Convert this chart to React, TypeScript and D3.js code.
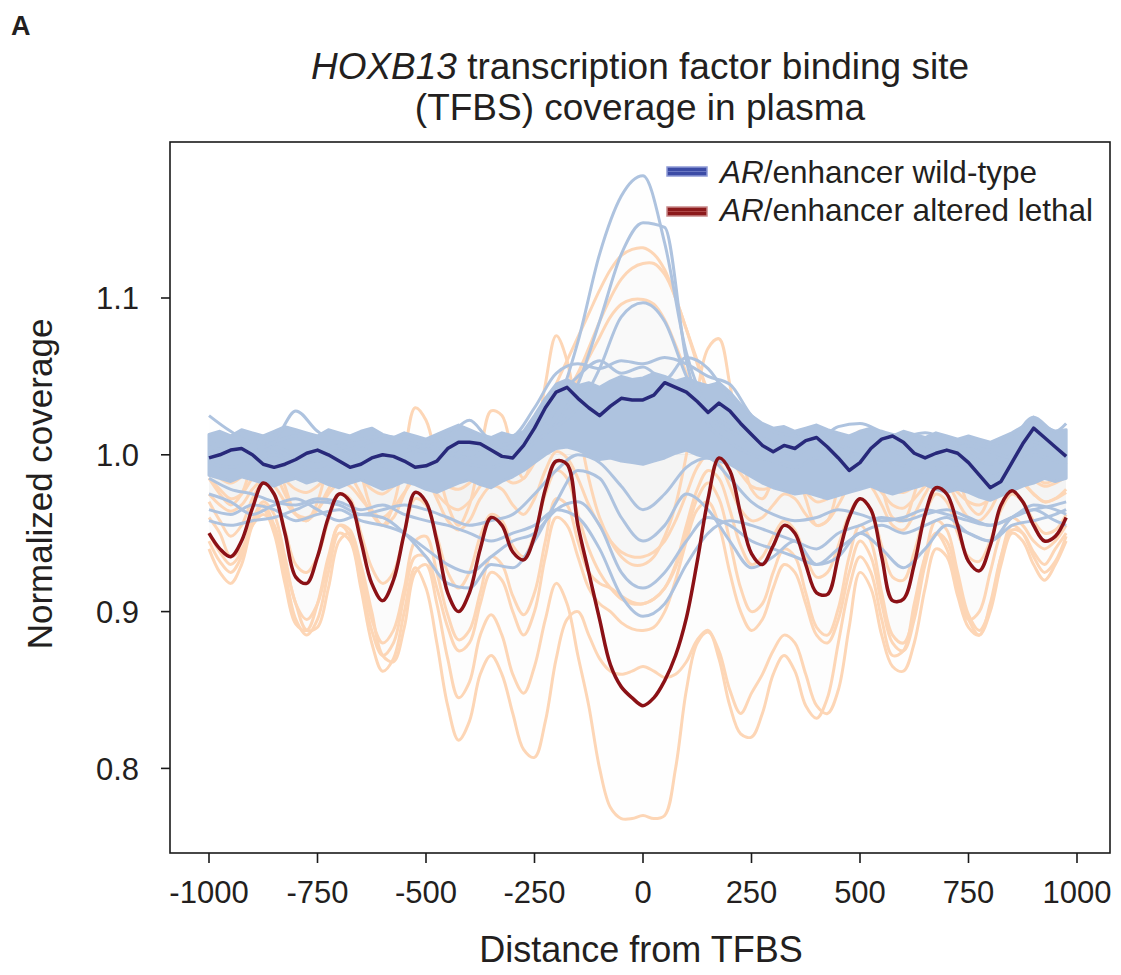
import React from 'react';
import * as d3 from 'd3';

// x positions (bp from TFBS)
const xFine = [
  -1000, -975, -950, -925, -900, -875, -850, -825, -800, -775,
  -750, -725, -700, -675, -650, -625, -600, -575, -550, -525,
  -500, -475, -450, -425, -400, -375, -350, -325, -300, -275,
  -250, -225, -200, -175, -150, -125, -100, -75, -50, -25,
  0, 25, 50, 75, 100, 125, 150, 175, 200, 225,
  250, 275, 300, 325, 350, 375, 400, 425, 450, 475,
  500, 525, 550, 575, 600, 625, 650, 675, 700, 725,
  750, 775, 800, 825, 850, 875, 900, 925, 950, 975,
];
const xCoarse = [
  -1000, -950, -900, -850, -800, -750, -700, -650, -600, -550,
  -500, -450, -400, -350, -300, -250, -200, -150, -100, -50,
  0, 50, 100, 150, 200, 250, 300, 350, 400, 450,
  500, 550, 600, 650, 700, 750, 800, 850, 900, 950, 975,
];

const xTicks = [-1000, -750, -500, -250, 0, 250, 500, 750, 1000];
const yTicks = [0.8, 0.9, 1.0, 1.1];
const yTickLabels = ['0.8', '0.9', '1.0', '1.1'];

// highlighted mean profiles (xFine)
const lethalMean = [
  0.950, 0.940, 0.935, 0.945, 0.966, 0.982, 0.975, 0.950, 0.922, 0.918,
  0.935, 0.960, 0.975, 0.970, 0.945, 0.918, 0.907, 0.920, 0.950, 0.976,
  0.970, 0.945, 0.912, 0.900, 0.912, 0.940, 0.960, 0.955, 0.938, 0.933,
  0.948, 0.978, 0.996, 0.994, 0.955, 0.925, 0.895, 0.866, 0.852, 0.845,
  0.840, 0.845, 0.856, 0.872, 0.896, 0.932, 0.972, 0.998, 0.990, 0.962,
  0.937, 0.930, 0.942, 0.955, 0.950, 0.930, 0.912, 0.911, 0.935, 0.960,
  0.972, 0.965, 0.935, 0.907, 0.908, 0.930, 0.962, 0.979, 0.975, 0.955,
  0.932, 0.926, 0.942, 0.968, 0.977, 0.970, 0.955, 0.945, 0.948, 0.960,
];
const wildTypeMean = [
  0.998, 1.000, 1.003, 1.004, 1.000, 0.994, 0.992, 0.994, 0.997, 1.001,
  1.003, 1.000, 0.996, 0.992, 0.994, 0.998, 1.000, 0.999, 0.996, 0.992,
  0.993, 0.996, 1.004, 1.008, 1.008, 1.007, 1.003, 0.999, 0.998, 1.006,
  1.017, 1.030, 1.040, 1.043, 1.036, 1.030, 1.025, 1.031, 1.036, 1.035,
  1.035, 1.038, 1.046, 1.043, 1.040, 1.034, 1.027, 1.033, 1.028, 1.020,
  1.013, 1.006, 1.002, 1.006, 1.004, 1.009, 1.011, 1.005, 0.998, 0.990,
  0.995, 1.004, 1.010, 1.012, 1.008, 1.001, 0.998, 1.001, 1.003, 1.001,
  0.995, 0.987, 0.979, 0.983, 0.995, 1.007, 1.017, 1.011, 1.005, 0.999,
];

// dense wild-type sample envelope (xFine)
const wildTypeBandUpper = [
  1.013, 1.015, 1.012, 1.016, 1.014, 1.012, 1.015, 1.018, 1.016, 1.014,
  1.012, 1.016, 1.014, 1.012, 1.015, 1.017, 1.013, 1.011, 1.014, 1.012,
  1.010, 1.013, 1.016, 1.019, 1.016, 1.013, 1.011, 1.014, 1.012, 1.015,
  1.025, 1.036, 1.045, 1.048, 1.044, 1.046, 1.043, 1.047, 1.050, 1.048,
  1.049, 1.052, 1.050, 1.047, 1.049, 1.046, 1.044, 1.046, 1.040, 1.032,
  1.025, 1.020, 1.017, 1.018, 1.015, 1.017, 1.019, 1.016, 1.014, 1.012,
  1.015, 1.017, 1.014, 1.012, 1.015, 1.013, 1.011, 1.014, 1.012, 1.010,
  1.012, 1.010, 1.008, 1.011, 1.014, 1.018, 1.024, 1.018, 1.015, 1.016,
];
const wildTypeBandLower = [
  0.987, 0.985, 0.983, 0.986, 0.984, 0.982, 0.980, 0.983, 0.985, 0.982,
  0.984, 0.981, 0.979, 0.982, 0.984, 0.981, 0.978, 0.980, 0.983, 0.981,
  0.978, 0.976, 0.979, 0.982, 0.984, 0.981, 0.979, 0.983, 0.986, 0.990,
  0.995, 1.000, 1.004, 1.005, 1.003, 1.000, 0.997, 0.998, 0.996, 0.995,
  0.994, 0.996, 0.998, 1.001, 1.003, 1.000, 0.998, 0.996, 0.994, 0.990,
  0.986, 0.982, 0.979, 0.977, 0.975, 0.976, 0.974, 0.972, 0.974, 0.976,
  0.978, 0.980, 0.977, 0.975, 0.977, 0.979, 0.981, 0.978, 0.976, 0.978,
  0.976, 0.973, 0.971, 0.974, 0.977, 0.980, 0.982, 0.985, 0.983, 0.985,
];

// individual wild-type samples (xCoarse)
const wtSample1 = [1.005, 1.002, 0.998, 1.005, 1.000, 0.996, 1.002, 1.004, 0.998, 1.000, 1.003, 0.999, 1.004, 1.002, 1.006, 1.012, 1.030, 1.072, 1.128, 1.165, 1.178, 1.135, 1.065, 1.030, 1.018, 1.010, 1.005, 1.000, 1.006, 1.002, 0.998, 1.004, 1.000, 0.996, 1.003, 1.000, 0.994, 1.000, 1.008, 1.003, 1.000];
const wtSample2 = [0.995, 0.992, 0.996, 1.000, 0.994, 0.990, 0.996, 0.999, 0.993, 0.990, 0.995, 0.998, 0.994, 0.992, 0.998, 1.008, 1.020, 1.045, 1.085, 1.128, 1.148, 1.145, 1.060, 1.020, 1.008, 1.000, 0.996, 0.992, 0.998, 0.994, 0.990, 0.996, 0.993, 0.989, 0.994, 0.992, 0.986, 0.992, 1.000, 0.996, 0.993];
const wtSample3 = [1.000, 1.004, 1.008, 1.004, 0.998, 1.002, 1.006, 1.000, 0.996, 1.002, 1.006, 1.002, 0.998, 1.004, 1.008, 1.012, 1.018, 1.030, 1.055, 1.088, 1.097, 1.085, 1.050, 1.025, 1.015, 1.008, 1.004, 1.008, 1.004, 0.998, 1.002, 1.006, 1.002, 0.998, 1.004, 1.006, 1.000, 0.996, 1.004, 1.008, 1.004];
const wtSample4 = [0.985, 0.978, 0.975, 0.970, 0.968, 0.972, 0.970, 0.965, 0.968, 0.962, 0.958, 0.955, 0.950, 0.945, 0.950, 0.955, 0.965, 0.960, 0.940, 0.910, 0.897, 0.905, 0.930, 0.950, 0.958, 0.955, 0.950, 0.945, 0.940, 0.950, 0.955, 0.960, 0.958, 0.962, 0.965, 0.960, 0.955, 0.960, 0.965, 0.968, 0.970];
const wtSample5 = [0.965, 0.962, 0.968, 0.965, 0.958, 0.962, 0.965, 0.958, 0.955, 0.950, 0.940, 0.930, 0.925, 0.935, 0.945, 0.950, 0.965, 0.970, 0.955, 0.925, 0.915, 0.925, 0.945, 0.960, 0.955, 0.945, 0.940, 0.935, 0.930, 0.940, 0.950, 0.955, 0.950, 0.955, 0.960, 0.950, 0.945, 0.955, 0.958, 0.962, 0.965];
const wtSample6 = [0.975, 0.970, 0.962, 0.968, 0.972, 0.965, 0.958, 0.962, 0.960, 0.950, 0.935, 0.918, 0.915, 0.930, 0.928, 0.945, 0.970, 0.990, 0.985, 0.960, 0.945, 0.955, 0.975, 0.965, 0.945, 0.928, 0.935, 0.945, 0.930, 0.935, 0.950, 0.940, 0.928, 0.940, 0.955, 0.950, 0.945, 0.960, 0.965, 0.958, 0.955];
const wtSample7 = [1.025, 1.015, 1.008, 1.010, 1.028, 1.015, 1.008, 1.010, 1.012, 1.010, 1.008, 1.012, 1.022, 1.010, 1.012, 1.030, 1.052, 1.058, 1.055, 1.060, 1.058, 1.062, 1.058, 1.050, 1.045, 1.025, 1.015, 1.012, 1.010, 1.018, 1.020, 1.015, 1.012, 1.014, 1.010, 1.008, 1.005, 1.010, 1.024, 1.015, 1.020];
const wtSample8 = [1.010, 1.006, 1.002, 1.008, 1.012, 1.006, 1.002, 1.006, 1.010, 1.006, 1.002, 1.006, 1.010, 1.006, 1.004, 1.015, 1.035, 1.050, 1.060, 1.052, 1.056, 1.048, 1.062, 1.055, 1.035, 1.015, 1.008, 1.004, 1.008, 1.006, 1.002, 1.006, 1.010, 1.006, 1.002, 1.006, 1.002, 0.998, 1.010, 1.006, 1.002];
const wtSample9 = [0.958, 0.955, 0.958, 0.960, 0.965, 0.970, 0.968, 0.962, 0.965, 0.968, 0.965, 0.960, 0.955, 0.958, 0.962, 0.975, 0.990, 1.000, 0.995, 0.980, 0.965, 0.975, 0.992, 0.998, 0.985, 0.970, 0.962, 0.958, 0.960, 0.965, 0.962, 0.958, 0.960, 0.965, 0.962, 0.958, 0.955, 0.960, 0.968, 0.965, 0.962];

// individual altered-lethal samples (xFine)
const alSample1 = [
  0.960, 0.950, 0.935, 0.940, 0.955, 0.962, 0.955, 0.930, 0.905, 0.888,
  0.890, 0.915, 0.945, 0.950, 0.930, 0.900, 0.872, 0.868, 0.890, 0.925,
  0.930, 0.905, 0.870, 0.845, 0.855, 0.885, 0.898, 0.885, 0.860, 0.848,
  0.865, 0.895, 0.918, 0.905, 0.872, 0.840, 0.800, 0.775, 0.768, 0.768,
  0.770, 0.768, 0.770, 0.800, 0.850, 0.880, 0.887, 0.875, 0.850, 0.835,
  0.848, 0.860, 0.875, 0.885, 0.880, 0.860, 0.840, 0.835, 0.850, 0.890,
  0.925, 0.915, 0.885, 0.865, 0.862, 0.880, 0.915, 0.940, 0.935, 0.910,
  0.890, 0.885, 0.905, 0.935, 0.952, 0.950, 0.938, 0.930, 0.940, 0.950,
];
const alSample2 = [
  0.945, 0.932, 0.925, 0.935, 0.958, 0.968, 0.955, 0.925, 0.895, 0.885,
  0.895, 0.925, 0.950, 0.945, 0.915, 0.880, 0.862, 0.870, 0.900, 0.928,
  0.915, 0.880, 0.840, 0.818, 0.830, 0.860, 0.872, 0.860, 0.835, 0.812,
  0.807, 0.830, 0.870, 0.895, 0.900, 0.885, 0.870, 0.862, 0.860, 0.862,
  0.865, 0.862, 0.858, 0.860, 0.868, 0.882, 0.888, 0.870, 0.840, 0.822,
  0.820, 0.835, 0.860, 0.872, 0.862, 0.840, 0.832, 0.845, 0.880, 0.915,
  0.935, 0.925, 0.895, 0.872, 0.875, 0.905, 0.935, 0.950, 0.940, 0.915,
  0.895, 0.900, 0.925, 0.950, 0.960, 0.955, 0.945, 0.940, 0.945, 0.955,
];
const alSample3 = [
  0.940, 0.925, 0.918, 0.930, 0.955, 0.965, 0.950, 0.918, 0.892, 0.888,
  0.905, 0.935, 0.955, 0.948, 0.918, 0.888, 0.872, 0.880, 0.910, 0.935,
  0.935, 0.915, 0.890, 0.875, 0.880, 0.905, 0.925, 0.920, 0.900, 0.885,
  0.900, 0.935, 0.960, 0.955, 0.935, 0.915, 0.905, 0.900, 0.893, 0.889,
  0.888, 0.890, 0.900, 0.920, 0.945, 0.965, 0.970, 0.955, 0.925, 0.900,
  0.888, 0.895, 0.915, 0.930, 0.925, 0.905, 0.885, 0.880, 0.895, 0.925,
  0.945, 0.935, 0.905, 0.880, 0.875, 0.895, 0.930, 0.950, 0.945, 0.920,
  0.895, 0.885, 0.900, 0.930, 0.950, 0.945, 0.930, 0.920, 0.930, 0.945,
];
const alSample4 = [
  0.970, 0.958, 0.948, 0.955, 0.972, 0.982, 0.975, 0.952, 0.930, 0.925,
  0.935, 0.958, 0.975, 0.972, 0.950, 0.928, 0.918, 0.925, 0.950, 0.972,
  0.968, 0.948, 0.925, 0.915, 0.925, 0.948, 0.962, 0.958, 0.942, 0.935,
  0.950, 0.975, 0.990, 0.985, 0.962, 0.940, 0.925, 0.915, 0.908, 0.905,
  0.905, 0.908, 0.915, 0.930, 0.955, 0.978, 0.990, 0.985, 0.965, 0.942,
  0.930, 0.935, 0.948, 0.958, 0.952, 0.935, 0.922, 0.925, 0.942, 0.962,
  0.972, 0.965, 0.942, 0.922, 0.920, 0.938, 0.962, 0.975, 0.970, 0.950,
  0.935, 0.932, 0.945, 0.965, 0.975, 0.970, 0.958, 0.950, 0.952, 0.962,
];
const alSample5 = [
  0.985, 0.978, 0.972, 0.975, 0.985, 0.992, 0.988, 0.975, 0.962, 0.958,
  0.965, 0.978, 0.988, 0.986, 0.975, 0.962, 0.955, 0.960, 0.975, 0.988,
  0.985, 0.972, 0.958, 0.952, 0.958, 0.972, 0.980, 0.978, 0.968, 0.962,
  0.972, 0.990, 1.002, 0.998, 0.985, 0.968, 0.955, 0.945, 0.938, 0.935,
  0.935, 0.938, 0.945, 0.958, 0.975, 0.992, 1.000, 0.995, 0.980, 0.965,
  0.958, 0.960, 0.968, 0.975, 0.972, 0.962, 0.955, 0.958, 0.968, 0.980,
  0.985, 0.980, 0.968, 0.955, 0.952, 0.962, 0.975, 0.985, 0.982, 0.970,
  0.960, 0.958, 0.965, 0.978, 0.985, 0.982, 0.975, 0.970, 0.972, 0.978,
];
const alSample6 = [
  1.002, 0.998, 0.995, 0.998, 1.004, 1.008, 1.005, 0.998, 0.992, 0.990,
  0.994, 1.000, 1.006, 1.004, 0.998, 0.992, 0.990, 0.994, 1.002, 1.008,
  1.006, 1.000, 0.994, 0.992, 0.996, 1.004, 1.010, 1.008, 1.002, 1.000,
  1.008, 1.025, 1.045, 1.060, 1.075, 1.090, 1.105, 1.118, 1.127, 1.131,
  1.132, 1.128, 1.118, 1.100, 1.080, 1.058, 1.040, 1.028, 1.018, 1.010,
  1.004, 1.000, 1.002, 1.006, 1.004, 0.998, 0.994, 0.996, 1.002, 1.006,
  1.008, 1.004, 0.998, 0.992, 0.990, 0.994, 1.000, 1.004, 1.002, 0.996,
  0.990, 0.988, 0.992, 0.998, 1.002, 1.000, 0.996, 0.994, 0.996, 1.000,
];
const alSample7 = [
  0.990, 0.985, 0.982, 0.986, 0.992, 0.996, 0.992, 0.984, 0.978, 0.976,
  0.980, 0.988, 0.994, 0.992, 0.985, 0.978, 0.975, 0.980, 0.988, 0.995,
  0.993, 0.986, 0.980, 0.978, 0.982, 0.990, 0.996, 0.994, 0.990, 0.992,
  1.000, 1.015, 1.028, 1.040, 1.052, 1.068, 1.085, 1.100, 1.112, 1.119,
  1.122, 1.122, 1.115, 1.100, 1.080, 1.060, 1.040, 1.025, 1.012, 1.002,
  0.995, 0.990, 0.990, 0.994, 0.992, 0.986, 0.980, 0.982, 0.988, 0.994,
  0.996, 0.992, 0.985, 0.978, 0.976, 0.980, 0.988, 0.993, 0.990, 0.984,
  0.978, 0.976, 0.980, 0.988, 0.993, 0.990, 0.984, 0.980, 0.982, 0.986,
];
const alSample8 = [
  0.975, 0.968, 0.964, 0.968, 0.978, 0.984, 0.980, 0.970, 0.962, 0.960,
  0.965, 0.975, 0.982, 0.980, 0.972, 0.964, 0.960, 0.966, 0.976, 0.984,
  0.982, 0.975, 0.968, 0.965, 0.970, 0.980, 0.988, 0.986, 0.982, 0.985,
  0.995, 1.010, 1.022, 1.035, 1.048, 1.062, 1.075, 1.088, 1.096, 1.099,
  1.099, 1.096, 1.086, 1.070, 1.052, 1.035, 1.020, 1.008, 0.998, 0.988,
  0.980, 0.978, 0.980, 0.984, 0.982, 0.976, 0.970, 0.972, 0.978, 0.985,
  0.988, 0.984, 0.976, 0.968, 0.966, 0.972, 0.980, 0.986, 0.983, 0.976,
  0.970, 0.968, 0.972, 0.980, 0.986, 0.982, 0.975, 0.970, 0.972, 0.976,
];
const alSample9 = [
  0.985, 0.975, 0.968, 0.975, 0.995, 1.008, 1.000, 0.980, 0.962, 0.958,
  0.970, 0.995, 1.012, 1.008, 0.988, 0.965, 0.955, 0.968, 1.000, 1.030,
  1.022, 0.995, 0.968, 0.955, 0.968, 1.000, 1.028, 1.025, 1.000, 0.985,
  1.005, 1.045, 1.076, 1.060, 1.020, 0.985, 0.960, 0.945, 0.935, 0.930,
  0.930, 0.935, 0.948, 0.968, 1.000, 1.040, 1.068, 1.074, 1.045, 1.005,
  0.978, 0.972, 0.985, 1.002, 0.995, 0.972, 0.955, 0.958, 0.980, 1.005,
  1.015, 1.005, 0.980, 0.960, 0.958, 0.975, 1.000, 1.012, 1.008, 0.988,
  0.968, 0.962, 0.975, 0.995, 1.005, 1.000, 0.988, 0.982, 0.985, 0.995,
];
const alSample10 = [
  1.008, 1.004, 1.000, 1.002, 1.008, 1.012, 1.010, 1.004, 0.998, 0.996,
  1.000, 1.006, 1.010, 1.008, 1.002, 0.996, 0.994, 0.998, 1.004, 1.010,
  1.008, 1.002, 0.996, 0.994, 0.998, 1.005, 1.010, 1.008, 1.004, 1.004,
  1.012, 1.025, 1.036, 1.032, 1.022, 1.015, 1.012, 1.015, 1.020, 1.022,
  1.022, 1.020, 1.018, 1.020, 1.025, 1.032, 1.036, 1.034, 1.024, 1.014,
  1.006, 1.004, 1.006, 1.010, 1.008, 1.002, 0.998, 1.000, 1.005, 1.010,
  1.012, 1.008, 1.002, 0.996, 0.995, 0.999, 1.005, 1.010, 1.008, 1.002,
  0.996, 0.995, 0.999, 1.005, 1.010, 1.008, 1.002, 0.998, 1.000, 1.004,
];
const alSample11 = [
  0.950, 0.938, 0.930, 0.938, 0.958, 0.970, 0.962, 0.935, 0.905, 0.895,
  0.905, 0.932, 0.955, 0.952, 0.925, 0.895, 0.880, 0.888, 0.915, 0.945,
  0.948, 0.925, 0.898, 0.882, 0.888, 0.912, 0.935, 0.930, 0.910, 0.898,
  0.912, 0.945, 0.972, 0.968, 0.945, 0.925, 0.918, 0.915, 0.910, 0.906,
  0.905, 0.908, 0.915, 0.928, 0.950, 0.972, 0.982, 0.972, 0.945, 0.915,
  0.900, 0.905, 0.925, 0.940, 0.935, 0.912, 0.890, 0.885, 0.902, 0.935,
  0.955, 0.945, 0.912, 0.885, 0.880, 0.898, 0.935, 0.958, 0.952, 0.925,
  0.898, 0.888, 0.902, 0.935, 0.955, 0.950, 0.935, 0.925, 0.932, 0.948,
];

const wildTypeSamples = [wtSample1, wtSample2, wtSample3, wtSample4, wtSample5, wtSample6, wtSample7, wtSample8, wtSample9];
const lethalSamples = [alSample1, alSample2, alSample3, alSample4, alSample5, alSample6, alSample7, alSample8, alSample9, alSample10, alSample11];

const FONT = 'Liberation Sans, Arial, Helvetica, sans-serif';
const C_WT_LIGHT = '#aec3df';
const C_AL_LIGHT = '#fdd6b6';
const C_WT = '#28297a';
const C_AL = '#8b1116';
const TEXT = '#231f20';

export default function App() {
  const box = { left: 170, right: 1110, top: 142, bottom: 853 };
  const x = d3.scaleLinear().domain([-1000, 1000]).range([209, 1077]);
  const y = d3.scaleLinear().domain([0.8, 1.1]).range([768.4, 298]);

  const lineFine = d3.line<number>().x((_, i) => x(xFine[i])).y((d) => y(d)).curve(d3.curveCatmullRom.alpha(0.5));
  const lineFineLin = d3.line<number>().x((_, i) => x(xFine[i])).y((d) => y(d));
  const lineCoarse = d3.line<number>().x((_, i) => x(xCoarse[i])).y((d) => y(d)).curve(d3.curveMonotoneX);
  const fillFine = d3.area<number>().x((_, i) => x(xFine[i])).y0(y(1.0)).y1((d) => y(d)).curve(d3.curveCatmullRom.alpha(0.5));
  const fillCoarse = d3.area<number>().x((_, i) => x(xCoarse[i])).y0(y(1.0)).y1((d) => y(d)).curve(d3.curveMonotoneX);
  const band = d3.area<number>().x((_, i) => x(xFine[i])).y0((_, i) => y(wildTypeBandLower[i])).y1((d) => y(d));

  return (
    <svg width={1121} height={975} style={{ position: 'absolute', left: 0, top: 0, background: '#fff' }} fontFamily={FONT}>
      <rect x={0} y={0} width={1121} height={975} fill="#fff" />
      <text x={11} y={35} fontSize={27} fontWeight="bold" fill={TEXT}>A</text>
      <text x={640} y={79} fontSize={37} textAnchor="middle" fill={TEXT}>
        <tspan fontStyle="italic">HOXB13</tspan> transcription factor binding site
      </text>
      <text x={640} y={120} fontSize={37} textAnchor="middle" fill={TEXT}>(TFBS) coverage in plasma</text>

      {/* faint fills */}
      <g>
        {lethalSamples.map((s, i) => (
          <path key={'fa' + i} d={fillFine(s) || ''} fill="#d8c4b6" fillOpacity={0.014} stroke="none" />
        ))}
        {wildTypeSamples.map((s, i) => (
          <path key={'fw' + i} d={fillCoarse(s) || ''} fill="#c4c8d8" fillOpacity={0.014} stroke="none" />
        ))}
      </g>

      {/* altered-lethal individual samples */}
      <g fill="none" stroke={C_AL_LIGHT} strokeWidth={3} strokeLinejoin="round">
        {lethalSamples.map((s, i) => (
          <path key={'al' + i} d={lineFine(s) || ''} />
        ))}
      </g>

      {/* wild-type dense band */}
      <path d={band(wildTypeBandUpper) || ''} fill={C_WT_LIGHT} stroke={C_WT_LIGHT} strokeWidth={3} strokeLinejoin="round" />

      {/* wild-type individual samples */}
      <g fill="none" stroke={C_WT_LIGHT} strokeWidth={3} strokeLinejoin="round">
        {wildTypeSamples.map((s, i) => (
          <path key={'wt' + i} d={lineCoarse(s) || ''} />
        ))}
      </g>

      {/* means */}
      <path d={lineFineLin(wildTypeMean) || ''} fill="none" stroke={C_WT} strokeWidth={3.5} strokeLinejoin="round" />
      <path d={lineFine(lethalMean) || ''} fill="none" stroke={C_AL} strokeWidth={3.5} strokeLinejoin="round" />

      {/* frame */}
      <rect x={box.left} y={box.top} width={box.right - box.left} height={box.bottom - box.top} fill="none" stroke="#1a1a1a" strokeWidth={1.6} />

      {/* y axis */}
      {yTicks.map((t, i) => (
        <g key={'yt' + i}>
          <line x1={161} x2={box.left} y1={y(t)} y2={y(t)} stroke="#1a1a1a" strokeWidth={1.6} />
          <text x={139} y={y(t)} dy="0.36em" fontSize={31} textAnchor="end" fill={TEXT}>{yTickLabels[i]}</text>
        </g>
      ))}
      <text transform={`translate(52, 484) rotate(-90)`} fontSize={35} textAnchor="middle" fill={TEXT}>Normalized coverage</text>

      {/* x axis */}
      {xTicks.map((t, i) => (
        <g key={'xt' + i}>
          <line x1={x(t)} x2={x(t)} y1={box.bottom} y2={box.bottom + 10} stroke="#1a1a1a" strokeWidth={1.6} />
          <text x={x(t)} y={903} fontSize={31} textAnchor="middle" fill={TEXT}>{String(t)}</text>
        </g>
      ))}
      <text x={641} y={962} fontSize={36} textAnchor="middle" fill={TEXT}>Distance from TFBS</text>

      {/* legend */}
      <g>
        <rect x={667} y={167} width={40} height={9} fill="#3c4ca6" stroke="#8e9ad6" strokeWidth={1.5} />
        <line x1={668} x2={706} y1={171.5} y2={171.5} stroke="#6a78c4" strokeWidth={1} />
        <text x={720} y={183} fontSize={31.5} fill={TEXT}>
          <tspan fontStyle="italic">AR</tspan>/enhancer wild-type
        </text>
        <rect x={667} y={207} width={40} height={9} fill="#8c1a1c" stroke="#c98a8a" strokeWidth={1.5} />
        <line x1={668} x2={706} y1={211.5} y2={211.5} stroke="#b04848" strokeWidth={1} />
        <text x={720} y={221} fontSize={31.5} fill={TEXT}>
          <tspan fontStyle="italic">AR</tspan>/enhancer altered lethal
        </text>
      </g>
    </svg>
  );
}
